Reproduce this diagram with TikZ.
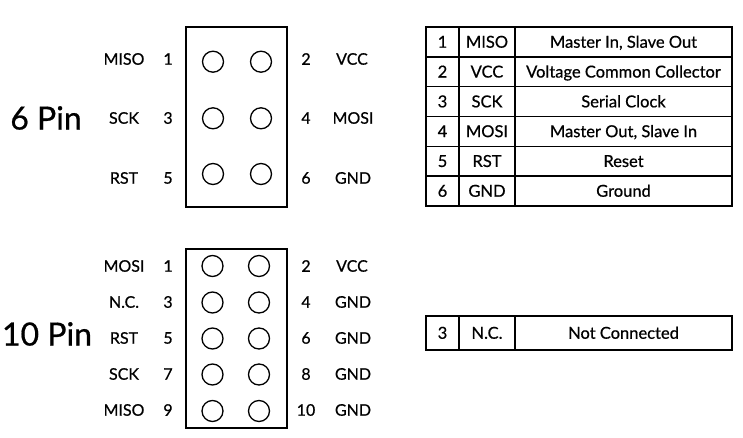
\documentclass[tikz,border=0pt]{standalone}
\usepackage{fontspec}
\setmainfont{Lato}[FakeBold=0.6]
\usepackage{tikz}

\tikzset{
    pinhole/.style={circle,draw,line width=1.3pt,minimum size=21pt,inner sep=0pt},
    header/.style={draw,line width=1.6pt,inner sep=0pt},
    pinlbl/.style={font=\fontsize{16}{19}\selectfont,inner sep=0pt},
    biglbl/.style={font=\fontsize{32}{36}\selectfont,inner sep=0pt},
    cell/.style={draw,line width=1.4pt,inner sep=0pt,minimum height=29.8pt,
        text height=11.5pt,text depth=0pt,font=\fontsize{16.5}{19}\selectfont},
}

\begin{document}
\begin{tikzpicture}[x=1pt,y=-1pt]
            %%% CANVAS %%%
            \fill[white] (0,0) rectangle (743,438);
            \useasboundingbox (0,0) rectangle (743,438);

            %%% 6 PIN HEADER %%%
            \node[header,minimum width=101pt,minimum height=180pt] (hdrsix) at (236.5,117) {};
            \node[biglbl] (sixpin) at (46,118) {6 Pin};
            \node[pinhole] (s1) at (213,61.7) {};
            \node[pinhole] (s2) at (261,61.7) {};
            \node[pinhole] (s3) at (213,118.3) {};
            \node[pinhole] (s4) at (261,118.3) {};
            \node[pinhole] (s5) at (213,174) {};
            \node[pinhole] (s6) at (261,174) {};

            %%% 6 PIN LABELS %%%
            \node[pinlbl] (smiso) at (124,59) {MISO};
            \node[pinlbl] (sn1) at (168,59) {1};
            \node[pinlbl] (sn2) at (306,59) {2};
            \node[pinlbl] (svcc) at (352,59) {VCC};
            \node[pinlbl] (ssck) at (124,118) {SCK};
            \node[pinlbl] (sn3) at (168,118) {3};
            \node[pinlbl] (sn4) at (306,118) {4};
            \node[pinlbl] (smosi) at (353,118) {MOSI};
            \node[pinlbl] (srst) at (124,178) {RST};
            \node[pinlbl] (sn5) at (168,178) {5};
            \node[pinlbl] (sn6) at (306,178) {6};
            \node[pinlbl] (sgnd) at (353,178) {GND};

            %%% 10 PIN HEADER %%%
            \node[header,minimum width=101pt,minimum height=179pt] (hdrten) at (236.5,338.7) {};
            \node[biglbl] (tenpin) at (47,334) {10 Pin};
            \node[pinhole] (t1) at (212.5,266) {};
            \node[pinhole] (t2) at (259,266) {};
            \node[pinhole] (t3) at (212.5,302.5) {};
            \node[pinhole] (t4) at (259,302.5) {};
            \node[pinhole] (t5) at (212.5,338.5) {};
            \node[pinhole] (t6) at (259,338.5) {};
            \node[pinhole] (t7) at (212.5,374.5) {};
            \node[pinhole] (t8) at (259,374.5) {};
            \node[pinhole] (t9) at (212.5,411) {};
            \node[pinhole] (t10) at (259,411) {};

            %%% 10 PIN LABELS %%%
            \node[pinlbl] (tmosi) at (124,266) {MOSI};
            \node[pinlbl] (tn1) at (168,266) {1};
            \node[pinlbl] (tn2) at (306,266) {2};
            \node[pinlbl] (tvcc) at (352,266) {VCC};
            \node[pinlbl] (tnc) at (124,302) {N.C.};
            \node[pinlbl] (tn3) at (168,302) {3};
            \node[pinlbl] (tn4) at (306,302) {4};
            \node[pinlbl] (tgnda) at (353,302) {GND};
            \node[pinlbl] (trst) at (124,338) {RST};
            \node[pinlbl] (tn5) at (168,338) {5};
            \node[pinlbl] (tn6) at (306,338) {6};
            \node[pinlbl] (tgndb) at (353,338) {GND};
            \node[pinlbl] (tsck) at (124,374) {SCK};
            \node[pinlbl] (tn7) at (168,374) {7};
            \node[pinlbl] (tn8) at (306,374) {8};
            \node[pinlbl] (tgndc) at (353,374) {GND};
            \node[pinlbl] (tmiso) at (124,410) {MISO};
            \node[pinlbl] (tn9) at (168,410) {9};
            \node[pinlbl] (tn10) at (306,410) {10};
            \node[pinlbl] (tgndd) at (353,410) {GND};

            %%% 6 PIN TABLE %%%
            \node[cell,minimum width=33pt] (ra1) at (442.5,42) {1};
            \node[cell,minimum width=56pt] (rb1) at (487,42) {MISO};
            \node[cell,minimum width=217pt] (rc1) at (623.5,42) {Master In, Slave Out};
            \node[cell,minimum width=33pt] (ra2) at (442.5,71.8) {2};
            \node[cell,minimum width=56pt] (rb2) at (487,71.8) {VCC};
            \node[cell,minimum width=217pt] (rc2) at (623.5,71.8) {Voltage Common Collector};
            \node[cell,minimum width=33pt] (ra3) at (442.5,101.6) {3};
            \node[cell,minimum width=56pt] (rb3) at (487,101.6) {SCK};
            \node[cell,minimum width=217pt] (rc3) at (623.5,101.6) {Serial Clock};
            \node[cell,minimum width=33pt] (ra4) at (442.5,131.4) {4};
            \node[cell,minimum width=56pt] (rb4) at (487,131.4) {MOSI};
            \node[cell,minimum width=217pt] (rc4) at (623.5,131.4) {Master Out, Slave In};
            \node[cell,minimum width=33pt] (ra5) at (442.5,161.2) {5};
            \node[cell,minimum width=56pt] (rb5) at (487,161.2) {RST};
            \node[cell,minimum width=217pt] (rc5) at (623.5,161.2) {Reset};
            \node[cell,minimum width=33pt] (ra6) at (442.5,191) {6};
            \node[cell,minimum width=56pt] (rb6) at (487,191) {GND};
            \node[cell,minimum width=217pt] (rc6) at (623.5,191) {Ground};

            %%% 10 PIN TABLE %%%
            \node[cell,minimum width=33pt,minimum height=34pt] (na) at (442.5,333) {3};
            \node[cell,minimum width=56pt,minimum height=34pt] (nb) at (487,333) {N.C.};
            \node[cell,minimum width=217pt,minimum height=34pt] (nc) at (623.5,333) {Not Connected};
        \end{tikzpicture}
\end{document}
